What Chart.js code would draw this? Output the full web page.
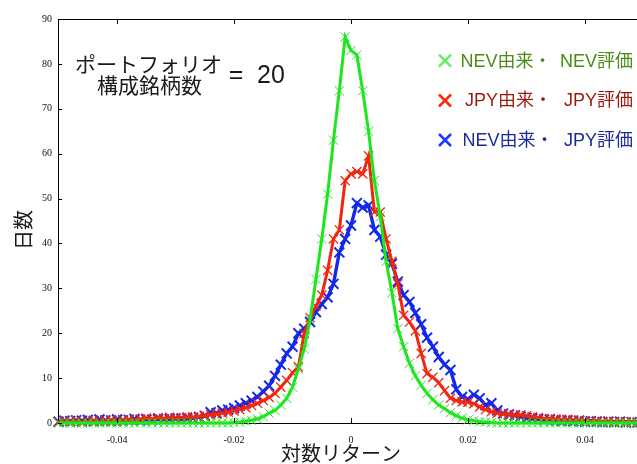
<!DOCTYPE html>
<html>
<head>
<meta charset="utf-8">
<script src="https://cdn.jsdelivr.net/npm/chart.js@4"></script>
<style>
html,body{margin:0;padding:0;background:#fff;}
#c{display:block;}
</style>
</head>
<body>
<canvas id="c" width="637" height="464" style="width:637px;height:464px"></canvas>
<script>
// bin centres (log return)
const returns = [
 -0.050,-0.049,-0.048,-0.047,-0.046,-0.045,-0.044,-0.043,-0.042,-0.041,
 -0.040,-0.039,-0.038,-0.037,-0.036,-0.035,-0.034,-0.033,-0.032,-0.031,
 -0.030,-0.029,-0.028,-0.027,-0.026,-0.025,-0.024,-0.023,-0.022,-0.021,
 -0.020,-0.019,-0.018,-0.017,-0.016,-0.015,-0.014,-0.013,-0.012,-0.011,
 -0.010,-0.009,-0.008,-0.007,-0.006,-0.005,-0.004,-0.003,-0.002,-0.001,
  0.000, 0.001, 0.002, 0.003, 0.004, 0.005, 0.006, 0.007, 0.008, 0.009,
  0.010, 0.011, 0.012, 0.013, 0.014, 0.015, 0.016, 0.017, 0.018, 0.019,
  0.020, 0.021, 0.022, 0.023, 0.024, 0.025, 0.026, 0.027, 0.028, 0.029,
  0.030, 0.031, 0.032, 0.033, 0.034, 0.035, 0.036, 0.037, 0.038, 0.039,
  0.040, 0.041, 0.042, 0.043, 0.044, 0.045, 0.046, 0.047, 0.048, 0.049, 0.050
];
// NEV由来・NEV評価
const nevNev = [
 0,0,0,0,0,0,0,0,0,0,
 0,0,0,0,0,0,0,0,0,0,
 0,0,0,0,0,0,0,0,0,0,
 0.1,0.2,0.4,0.6,0.9,1.4,2.2,2.8,4,5.5,
 8,12,16.5,23,32,41,51,63,74,86,
 83,82,74,65,54,46,36,29,21,17,
 13.3,10.5,8.4,6.6,5.2,4,3.2,2.3,1.6,1.1,
 0.7,0.5,0.3,0.2,0.1,0,0,0,0,0,
 0,0,0,0,0,0,0,0,0,0,
 0,0,0,0,0,0,0,0,0,0,0
];
// JPY由来・JPY評価
const jpyJpy = [
 0.2,0.4,0.3,0.5,0.2,0.4,0.6,0.3,0.5,0.7,
 0.4,0.6,0.8,0.6,0.9,1.1,0.9,1.2,1.0,1.3,
 1.1,1.2,1.4,1.3,1.5,1.6,1.8,2.0,2.2,2.4,
 2.7,3.0,3.4,3.9,4.4,5.0,5.7,6.6,8.0,9.5,
 11.2,12.5,20,23.5,26,28.5,34,41,43,54,
 55.5,56,55.5,59.5,47,47,41,36,31,24,
 22.5,20.5,15.5,11,10.2,9,7.2,5.5,5,4.7,
 4.6,4.3,3.6,3,2.5,2.2,2,1.9,1.8,1.8,
 1.6,1.4,1.2,1,1,0.9,0.8,0.8,0.7,0.6,
 0.5,0.4,0.5,0.3,0.4,0.3,0.2,0.3,0.2,0.1,0.1
];
// NEV由来・JPY評価
const nevJpy = [
 0.3,0.5,0.4,0.6,0.5,0.7,0.4,0.8,0.6,0.5,
 0.8,0.6,0.7,0.9,0.6,0.8,0.7,0.9,0.8,0.9,
 1.0,0.9,1.0,1.1,1.3,1.6,2.4,2.2,2.8,3.0,
 3.3,3.9,4.4,5.0,5.8,7.0,8.3,10.5,13,15.5,
 17,20,21,22.5,24.7,26.5,28,31,38,41,
 44,49,48,48.5,43,41.5,37.5,35.5,31.5,28.5,
 27,24.5,22,19,17,14.7,13,11.8,7.5,5.8,
 5.3,6.3,5.5,4,4.4,2.8,2.1,1.9,1.7,1.4,
 1.1,1.0,0.9,0.7,0.8,0.6,0.5,0.6,0.4,0.5,
 0.3,0.4,0.3,0.2,0.3,0.2,0.3,0.1,0.2,0.1,0.1
];
const seriesNames = ['NEV由来・ NEV評価', 'JPY由来・ JPY評価', 'NEV由来・ JPY評価'];
const legendParts = [['NEV由来・', 'NEV評価'], ['JPY由来・', 'JPY評価'], ['NEV由来・', 'JPY評価']];
const xTickValues = [-0.04, -0.02, 0, 0.02, 0.04];
const yTickValues = [0, 10, 20, 30, 40, 50, 60, 70, 80, 90];
const xTitle = '対数リターン';
const yTitle = '日数';
const noteLine1 = 'ポートフォリオ';
const noteLine2 = '構成銘柄数';
const noteValue = '20';

const lineColors = ['#1ee61e', '#f2260e', '#1428ea'];
const legendMarkColors = ['#66ee66', '#ff2a0a', '#1a3cff'];
const legendTextColors = ['#4a8c14', '#9c1a0c', '#1a2a98'];

function pts(ys){ return ys.map((y,i)=>({x: returns[i], y})); }

const CJK = '"Liberation Sans","Noto Sans CJK JP",sans-serif';

const decor = {
  id: 'decor',
  afterDraw(chart){
    const ctx = chart.ctx, a = chart.chartArea;
    const xs = chart.scales.x, ys = chart.scales.y;
    ctx.save();
    ctx.strokeStyle = '#000';
    ctx.lineWidth = 1;
    // top frame
    ctx.beginPath();
    ctx.moveTo(a.left, a.top + 0.5); ctx.lineTo(a.right, a.top + 0.5);
    ctx.stroke();
    // inward ticks
    ctx.beginPath();
    xs.ticks.forEach(t => {
      const px = Math.round(xs.getPixelForValue(t.value)) + 0.5;
      ctx.moveTo(px, a.bottom); ctx.lineTo(px, a.bottom - 5);
      ctx.moveTo(px, a.top); ctx.lineTo(px, a.top + 5);
    });
    ys.ticks.forEach(t => {
      const py = Math.round(ys.getPixelForValue(t.value)) + 0.5;
      ctx.moveTo(a.left, py); ctx.lineTo(a.left + 4, py);
    });
    ctx.stroke();

    // annotation
    ctx.fillStyle = '#1a1a1a';
    ctx.textAlign = 'center';
    ctx.textBaseline = 'middle';
    ctx.font = '21px "Noto Sans CJK JP",sans-serif';
    ctx.fillText(noteLine1, 148.5, 64.5);
    ctx.fillText(noteLine2, 149.5, 85);
    ctx.font = '25px "Liberation Sans",sans-serif';
    ctx.textBaseline = 'alphabetic';
    ctx.fillText('=', 236, 83);
    ctx.textAlign = 'left';
    ctx.fillText(noteValue, 257, 83);

    // axis titles
    ctx.font = '20px "Noto Sans CJK JP",sans-serif';
    ctx.textAlign = 'center';
    ctx.textBaseline = 'middle';
    ctx.fillText(xTitle, 341, 453);
    ctx.save();
    ctx.translate(23, 230);
    ctx.rotate(-Math.PI/2);
    ctx.fillText(yTitle, 0, 0);
    ctx.restore();

    // legend
    const rows = [60.7, 100.5, 140];
    const starts = [460.5, 465, 462.5];
    ctx.font = '18px ' + CJK;
    ctx.textBaseline = 'middle';
    legendParts.forEach((parts, i) => {
      const cy = rows[i], cx = 445, h = 6;
      ctx.strokeStyle = legendMarkColors[i];
      ctx.lineWidth = 2.6;
      ctx.beginPath();
      ctx.moveTo(cx - h, cy - h); ctx.lineTo(cx + h, cy + h);
      ctx.moveTo(cx + h, cy - h); ctx.lineTo(cx - h, cy + h);
      ctx.stroke();
      ctx.fillStyle = legendTextColors[i];
      ctx.textAlign = 'left';
      ctx.fillText(parts[0], starts[i], cy + 1);
      ctx.textAlign = 'right';
      ctx.fillText(parts[1], 633, cy + 1);
    });
    ctx.restore();
  }
};

const mk = (label, data, color, lw, pr, pbw) => ({
  label, data: pts(data),
  borderColor: color, backgroundColor: color,
  borderWidth: lw, pointStyle: 'crossRot', pointRadius: pr,
  pointBorderWidth: pbw, pointBorderColor: color,
  pointHoverRadius: pr, tension: 0, clip: false, fill: false
});

new Chart(document.getElementById('c'), {
  type: 'line',
  data: {
    datasets: [
      mk(seriesNames[0], nevNev, lineColors[0], 3, 6.5, 1),
      mk(seriesNames[1], jpyJpy, lineColors[1], 3, 6.5, 1.3),
      mk(seriesNames[2], nevJpy, lineColors[2], 3.4, 7, 2)
    ]
  },
  options: {
    responsive: false,
    devicePixelRatio: 1,
    animation: false,
    events: [],
    layout: { autoPadding: false, padding: { top: 19, right: 0, left: 0, bottom: 0 } },
    plugins: { legend: { display: false }, tooltip: { enabled: false } },
    scales: {
      x: {
        type: 'linear', min: -0.0501, max: 0.0489,
        afterBuildTicks: s => { s.ticks = xTickValues.map(v => ({ value: v })); },
        afterFit: s => { s.height = 41; s.paddingLeft = 0; s.paddingRight = 0; },
        ticks: {
          autoSkip: false, maxRotation: 0, padding: 11, color: '#111',
          font: { family: '"Liberation Serif",serif', size: 10 },
          callback: v => v === 0 ? '0' : v.toFixed(2)
        },
        grid: { display: true, drawOnChartArea: false, drawTicks: false },
        border: { display: true, color: '#000', width: 1 }
      },
      y: {
        min: 0, max: 90,
        afterBuildTicks: s => { s.ticks = yTickValues.map(v => ({ value: v })); },
        afterFit: s => { s.width = 58; s.paddingTop = 0; s.paddingBottom = 0; },
        ticks: {
          autoSkip: false, padding: 6, color: '#111',
          font: { family: '"Liberation Serif",serif', size: 10 }
        },
        grid: { display: true, drawOnChartArea: false, drawTicks: false },
        border: { display: true, color: '#000', width: 1 }
      }
    }
  },
  plugins: [decor]
});
</script>
</body>
</html>
